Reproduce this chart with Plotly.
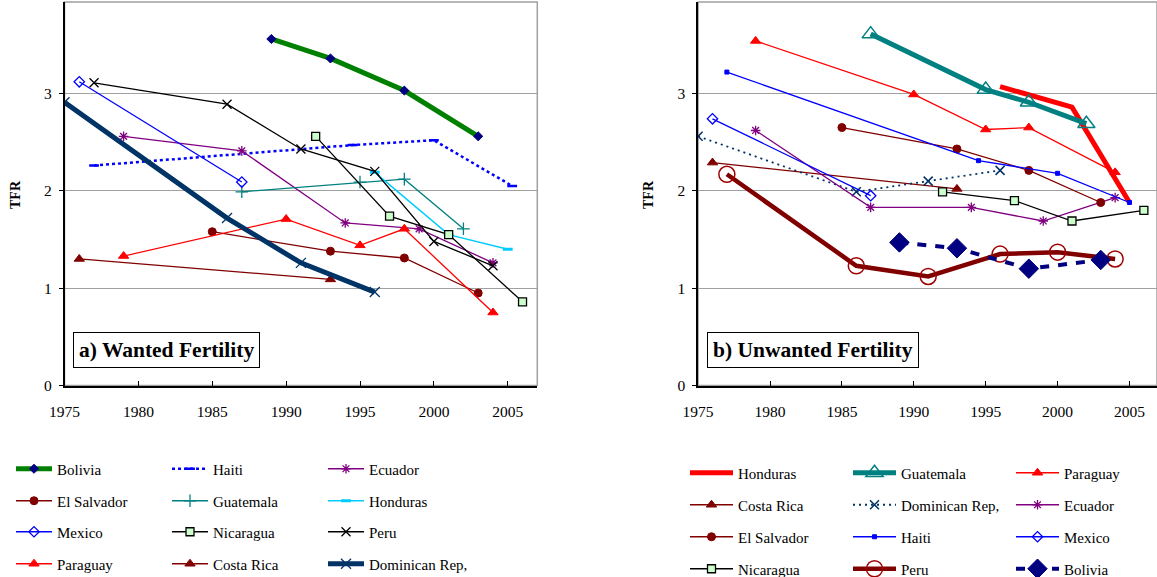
import plotly.graph_objects as go

# ---------------- a) Wanted fertility ----------------
w_bolivia_yr = [1989, 1993, 1998, 2003]
w_bolivia = [3.56, 3.36, 3.03, 2.56]
w_haiti_yr = [1977, 1994.5, 2000, 2005.3]
w_haiti = [2.26, 2.47, 2.52, 2.05]
w_ecuador_yr = [1979, 1987, 1994, 1999, 2004]
w_ecuador = [2.56, 2.41, 1.67, 1.61, 1.26]
w_elsalvador_yr = [1985, 1993, 1998, 2003]
w_elsalvador = [1.58, 1.38, 1.31, 0.95]
w_guatemala_yr = [1987, 1995, 1998, 2002]
w_guatemala = [1.99, 2.09, 2.12, 1.61]
w_honduras_yr = [1996, 2001, 2005]
w_honduras = [2.19, 1.55, 1.40]
w_mexico_yr = [1976, 1987]
w_mexico = [3.12, 2.09]
w_nicaragua_yr = [1992, 1997, 2001, 2006]
w_nicaragua = [2.56, 1.74, 1.55, 0.86]
w_peru_yr = [1977, 1986, 1991, 1996, 2000, 2004]
w_peru = [3.11, 2.89, 2.43, 2.20, 1.48, 1.23]
w_paraguay_yr = [1979, 1990, 1995, 1998, 2004]
w_paraguay = [1.33, 1.71, 1.44, 1.61, 0.75]
w_costarica_yr = [1976, 1993]
w_costarica = [1.30, 1.09]
w_domrep_yr = [1975, 1986, 1991, 1996]
w_domrep = [2.91, 1.72, 1.26, 0.96]

# ---------------- b) Unwanted fertility ----------------
u_honduras_yr = [1996, 2001, 2005]
u_honduras = [3.07, 2.86, 1.88]
u_guatemala_yr = [1987, 1995, 1998, 2002]
u_guatemala = [3.61, 3.04, 2.91, 2.69]
u_paraguay_yr = [1979, 1990, 1995, 1998, 2004]
u_paraguay = [3.54, 2.99, 2.63, 2.65, 2.19]
u_costarica_yr = [1976, 1993]
u_costarica = [2.29, 2.02]
u_domrep_yr = [1975, 1986, 1991, 1996]
u_domrep = [2.56, 1.99, 2.10, 2.21]
u_ecuador_yr = [1979, 1987, 1994, 1999, 2004]
u_ecuador = [2.62, 1.83, 1.83, 1.69, 1.93]
u_elsalvador_yr = [1985, 1993, 1998, 2003]
u_elsalvador = [2.65, 2.43, 2.21, 1.88]
u_haiti_yr = [1977, 1994.5, 2000, 2005]
u_haiti = [3.22, 2.31, 2.18, 1.88]
u_mexico_yr = [1976, 1987]
u_mexico = [2.74, 1.95]
u_nicaragua_yr = [1992, 1997, 2001, 2006]
u_nicaragua = [1.99, 1.90, 1.69, 1.80]
u_peru_yr = [1977, 1986, 1991, 1996, 2000, 2004]
u_peru = [2.17, 1.23, 1.12, 1.35, 1.37, 1.30]
u_bolivia_yr = [1989, 1993, 1998, 2003]
u_bolivia = [1.47, 1.41, 1.20, 1.29]

y_ticks = [0, 1, 2, 3]
x_ticks = [1975, 1980, 1985, 1990, 1995, 2000, 2005]

SERIF = "Liberation Serif"
W, H = 1157, 577

fig = go.Figure()


def add(name, xs, ys, ax, legend, color, width=1.3, dash="solid",
        symbol="circle", size=7, mcolor=None, mline=None, mlw=1.0, mode="lines+markers"):
    fig.add_trace(go.Scatter(
        x=xs, y=ys, name=name, mode=mode,
        xaxis="x" if ax == 1 else "x2", yaxis="y" if ax == 1 else "y2",
        legend=legend,
        line=dict(color=color, width=width, dash=dash),
        marker=dict(symbol=symbol, size=size, color=mcolor or color,
                    line=dict(color=mline or mcolor or color, width=mlw)),
    ))


# left panel, legend rows of three
add("Bolivia", w_bolivia_yr, w_bolivia, 1, "legend", "#008000", width=5,
    symbol="diamond", size=7, mcolor="#000080")
add("Haiti", w_haiti_yr, w_haiti, 1, "legend", "#0000FF", width=2.5, dash="3px,3px",
    symbol="line-ew", size=7, mlw=2.5)
add("Ecuador", w_ecuador_yr, w_ecuador, 1, "legend", "#800080",
    symbol="asterisk-open", size=8, mlw=1.3)
add("El Salvador", w_elsalvador_yr, w_elsalvador, 1, "legend2", "#800000",
    symbol="circle", size=8)
add("Guatemala", w_guatemala_yr, w_guatemala, 1, "legend2", "#008080",
    symbol="cross-thin-open", size=9, mlw=1.3)
add("Honduras", w_honduras_yr, w_honduras, 1, "legend2", "#00CCFF", width=1.5,
    symbol="line-ew", size=7, mlw=3)
add("Mexico", w_mexico_yr, w_mexico, 1, "legend3", "#0000FF",
    symbol="diamond-open", size=8, mlw=1.3)
add("Nicaragua", w_nicaragua_yr, w_nicaragua, 1, "legend3", "#000000",
    symbol="square", size=8, mcolor="#CCFFCC", mline="#000000", mlw=1.3)
add("Peru", w_peru_yr, w_peru, 1, "legend3", "#000000",
    symbol="x-thin-open", size=9, mlw=1.3)
add("Paraguay", w_paraguay_yr, w_paraguay, 1, "legend4", "#FF0000",
    symbol="triangle-up", size=9)
add("Costa Rica", w_costarica_yr, w_costarica, 1, "legend4", "#800000",
    symbol="triangle-up", size=9)
add("Dominican Rep,", w_domrep_yr, w_domrep, 1, "legend4", "#003366", width=5,
    symbol="x-thin-open", size=10, mlw=1.3)

# right panel
add("Honduras", u_honduras_yr, u_honduras, 2, "legend5", "#FF0000", width=5, mode="lines")
add("Guatemala", u_guatemala_yr, u_guatemala, 2, "legend5", "#008080", width=5,
    symbol="triangle-up-open", size=15, mlw=1.5)
add("Paraguay", u_paraguay_yr, u_paraguay, 2, "legend5", "#FF0000",
    symbol="triangle-up", size=9)
add("Costa Rica", u_costarica_yr, u_costarica, 2, "legend6", "#800000",
    symbol="triangle-up", size=9)
add("Dominican Rep,", u_domrep_yr, u_domrep, 2, "legend6", "#003366", width=1.8,
    dash="2px,4px", symbol="x-thin-open", size=9, mlw=1.5)
add("Ecuador", u_ecuador_yr, u_ecuador, 2, "legend6", "#800080",
    symbol="asterisk-open", size=8, mlw=1.3)
add("El Salvador", u_elsalvador_yr, u_elsalvador, 2, "legend7", "#800000",
    symbol="circle", size=8)
add("Haiti", u_haiti_yr, u_haiti, 2, "legend7", "#0000FF",
    symbol="square", size=4)
add("Mexico", u_mexico_yr, u_mexico, 2, "legend7", "#0000FF",
    symbol="diamond-open", size=8, mlw=1.3)
add("Nicaragua", u_nicaragua_yr, u_nicaragua, 2, "legend8", "#000000",
    symbol="square", size=8, mcolor="#CCFFCC", mline="#000000", mlw=1.3)
add("Peru", u_peru_yr, u_peru, 2, "legend8", "#800000", width=4.5,
    symbol="circle-open", size=16, mlw=1.5, mcolor="#A00000")
add("Bolivia", u_bolivia_yr, u_bolivia, 2, "legend8", "#000080", width=4,
    dash="9px,9px", symbol="diamond", size=15)

tick_font = dict(family=SERIF, size=15.5, color="#000000")
y_dom = [(H - 385.5) / H, (H - 2) / H]


def xaxis(domain, rng):
    return dict(domain=domain, range=rng, tickvals=x_ticks, ticks="inside", ticklen=5,
                tickcolor="#000000", showline=True, linecolor="#000000", linewidth=1.5,
                showgrid=False, zeroline=False, tickfont=tick_font, ticklabelstandoff=11,
                fixedrange=True)


def yaxis(anchor):
    return dict(domain=y_dom, range=[0, 3.94], tickvals=y_ticks, ticks="outside", ticklen=4,
                tickcolor="#000000", showline=True, linecolor="#000000", linewidth=1.5,
                showgrid=True, gridcolor="#A0A0A0", gridwidth=1, zeroline=False,
                tickfont=tick_font, anchor=anchor, ticklabelstandoff=4)


legend_font = dict(family=SERIF, size=15, color="#000000")


def legend(x_px, y_px, iw, ew):
    return dict(orientation="h", x=x_px / W, y=(H - y_px) / H, xanchor="left",
                yanchor="middle", entrywidth=ew, itemwidth=iw, font=legend_font,
                bgcolor="rgba(0,0,0,0)", borderwidth=0, traceorder="normal")


title_font = dict(family=SERIF, size=21.5, color="#000000")
label_font = dict(family=SERIF, size=14, color="#000000")

layout = dict(
    width=W, height=H, margin=dict(l=0, r=0, t=0, b=0, autoexpand=False),
    paper_bgcolor="#FFFFFF", plot_bgcolor="#FFFFFF",
    xaxis=xaxis([64.5 / W, 537.3 / W], [1975, 2007]),
    yaxis=yaxis("x"),
    xaxis2=xaxis([698.1 / W, 1.0], [1975, 1975 + (W - 698.1) / 14.38]),
    yaxis2=yaxis("x2"),
    shapes=[
        dict(type="rect", xref="x domain", yref="y domain", x0=0, x1=1, y0=0, y1=1,
             line=dict(color="#A0A0A0", width=1.5), layer="below"),
        dict(type="rect", xref="x2 domain", yref="y2 domain", x0=0, x1=1, y0=0, y1=1,
             line=dict(color="#A0A0A0", width=1.5), layer="below"),
    ],
    annotations=[
        dict(text="<b>a) Wanted Fertility</b>", xref="paper", yref="paper",
             x=73 / W, y=(H - 349.5) / H, xanchor="left", yanchor="middle", showarrow=False,
             font=title_font, bordercolor="#000000", borderwidth=1, borderpad=5,
             bgcolor="#FFFFFF"),
        dict(text="<b>b) Unwanted Fertility</b>", xref="paper", yref="paper",
             x=707 / W, y=(H - 349.5) / H, xanchor="left", yanchor="middle", showarrow=False,
             font=title_font, bordercolor="#000000", borderwidth=1, borderpad=5,
             bgcolor="#FFFFFF"),
        dict(text="<b>TFR</b>", xref="paper", yref="paper", x=15 / W, y=(H - 195) / H,
             xanchor="center", yanchor="middle", textangle=-90, showarrow=False,
             font=label_font),
        dict(text="<b>TFR</b>", xref="paper", yref="paper", x=648 / W, y=(H - 195) / H,
             xanchor="center", yanchor="middle", textangle=-90, showarrow=False,
             font=label_font),
    ],
    legend=legend(11, 469, 36, 105),
    legend2=legend(11, 501, 36, 105),
    legend3=legend(11, 532, 36, 105),
    legend4=legend(11, 564, 36, 105),
    legend5=legend(685, 473, 43, 105),
    legend6=legend(685, 505, 43, 105),
    legend7=legend(685, 537, 43, 105),
    legend8=legend(685, 569, 43, 105),
)
fig.update_layout(**layout)

fig.write_html("out.html")
